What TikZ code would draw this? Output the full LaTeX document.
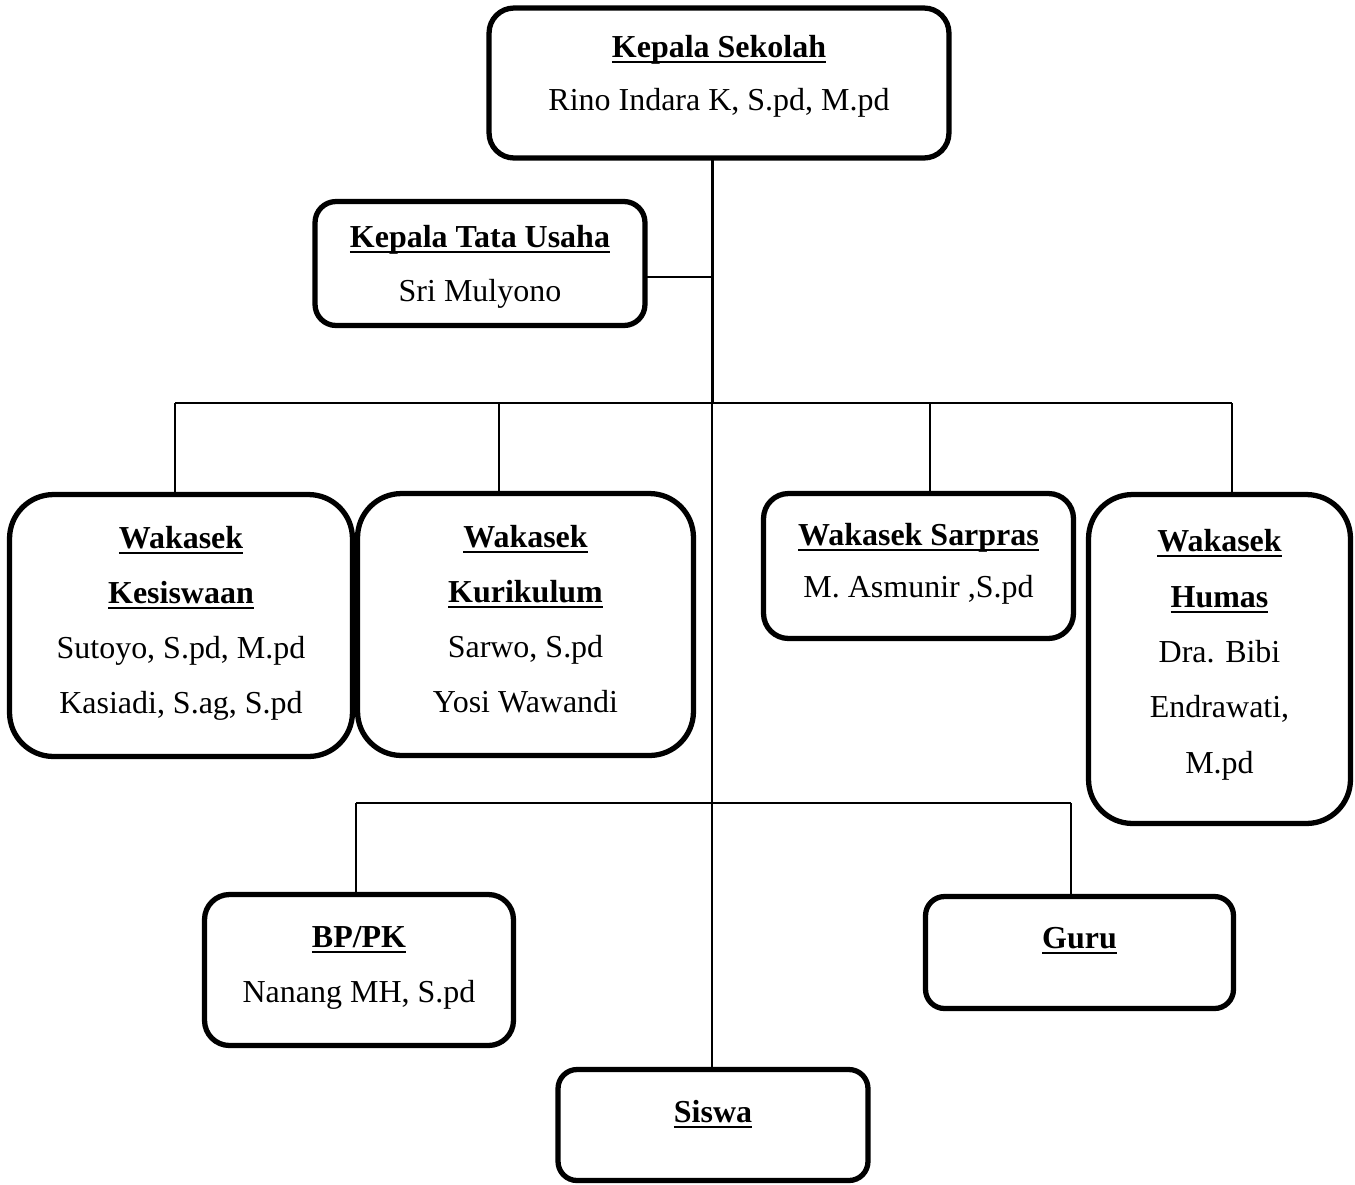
\documentclass[tikz,border=0pt]{standalone}
\usepackage{fontspec}
\setmainfont{Liberation Serif}
\newcommand\ulx[1]{\setbox0=\hbox{#1}\rlap{\rule[-0.2em]{\wd0}{0.08em}}\box0}
\begin{document}
\begin{tikzpicture}[x=0.02cm,y=-0.02cm,
  orgbox/.style={draw, line width=3pt, inner sep=0pt, outer sep=0pt},
  txt/.style={anchor=base, inner sep=0pt, font=\fontsize{18.2pt}{22pt}\selectfont},
  htxt/.style={txt, font=\fontsize{18.2pt}{22pt}\selectfont\bfseries},
  conn/.style={line width=1.1pt},
  trunk/.style={line width=1.7pt}]
\fill[white] (0,0) rectangle (1355,1184);
\useasboundingbox (0,0) rectangle (1355,1184);

% boxes
\node[orgbox, minimum width=9.2cm, minimum height=3.0cm, rounded corners=0.5cm] (ks) at (719,83) {};
\node[orgbox, minimum width=6.6cm, minimum height=2.48cm, rounded corners=0.42cm] (tu) at (480,263.5) {};
\node[orgbox, minimum width=6.86cm, minimum height=5.24cm, rounded corners=0.88cm] (kes) at (181,625.5) {};
\node[orgbox, minimum width=6.72cm, minimum height=5.24cm, rounded corners=0.88cm] (kur) at (525.5,624.5) {};
\node[orgbox, minimum width=6.2cm, minimum height=2.9cm, rounded corners=0.5cm] (sar) at (918.5,566) {};
\node[orgbox, minimum width=5.24cm, minimum height=6.58cm, rounded corners=0.88cm] (hum) at (1219.5,659) {};
\node[orgbox, minimum width=6.18cm, minimum height=3.02cm, rounded corners=0.5cm] (bp) at (359,970) {};
\node[orgbox, minimum width=6.16cm, minimum height=2.24cm, rounded corners=0.38cm] (guru) at (1079.5,952.5) {};
\node[orgbox, minimum width=6.2cm, minimum height=2.22cm, rounded corners=0.38cm] (sis) at (713,1125) {};

% texts
\node[htxt] (ks1) at (719,57) {\ulx{Kepala Sekolah}};
\node[txt] (ks2) at (719,110) {Rino Indara K, S.pd, M.pd};
\node[htxt] (tu1) at (480,247) {\ulx{Kepala Tata Usaha}};
\node[txt] (tu2) at (480,301) {Sri Mulyono};
\node[htxt] (kes1) at (181,548) {\ulx{Wakasek}};
\node[htxt] (kes2) at (181,603) {\ulx{Kesiswaan}};
\node[txt] (kes3) at (181,658) {Sutoyo, S.pd, M.pd};
\node[txt] (kes4) at (181,713) {Kasiadi, S.ag, S.pd};
\node[htxt] (kur1) at (525.5,547) {\ulx{Wakasek}};
\node[htxt] (kur2) at (525.5,602) {\ulx{Kurikulum}};
\node[txt] (kur3) at (525.5,657) {Sarwo, S.pd};
\node[txt] (kur4) at (525.5,712) {Yosi Wawandi};
\node[htxt] (sar1) at (918.5,545) {\ulx{Wakasek Sarpras}};
\node[txt] (sar2) at (918.5,597) {M. Asmunir ,S.pd};
\node[htxt] (hum1) at (1219.5,551) {\ulx{Wakasek}};
\node[htxt] (hum2) at (1219.5,607) {\ulx{Humas}};
\node[txt] (hum3) at (1219.5,662) {Dra. Bibi};
\node[txt] (hum4) at (1219.5,717) {Endrawati,};
\node[txt] (hum5) at (1219.5,773) {M.pd};
\node[htxt] (bp1) at (359,947) {\ulx{BP/PK}};
\node[txt] (bp2) at (359,1002) {Nanang MH, S.pd};
\node[htxt] (guru1) at (1079.5,948) {\ulx{Guru}};
\node[htxt] (sis1) at (713,1122) {\ulx{Siswa}};

% connectors
\coordinate (j1) at (712,403);
\coordinate (tuj) at (712,277);
\coordinate (hL) at (175,403);
\coordinate (hR) at (1232,403);
\coordinate (dK) at (499,403);
\coordinate (dS) at (930,403);
\coordinate (lL) at (356,803);
\coordinate (lR) at (1071,803);

\draw[trunk] (ks.south -| j1) -- (j1);
\draw[conn] (tu.east |- tuj) -- (tuj);
\draw[conn] (hL) -- (hR);
\draw[conn] (hL) -- (hL |- kes.north);
\draw[conn] (dK) -- (dK |- kur.north);
\draw[conn] (dS) -- (dS |- sar.north);
\draw[conn] (hR) -- (hR |- hum.north);
\draw[conn] (j1) -- (j1 |- sis.north);
\draw[conn] (lL) -- (lR);
\draw[conn] (lL) -- (lL |- bp.north);
\draw[conn] (lR) -- (lR |- guru.north);
\end{tikzpicture}
\end{document}
